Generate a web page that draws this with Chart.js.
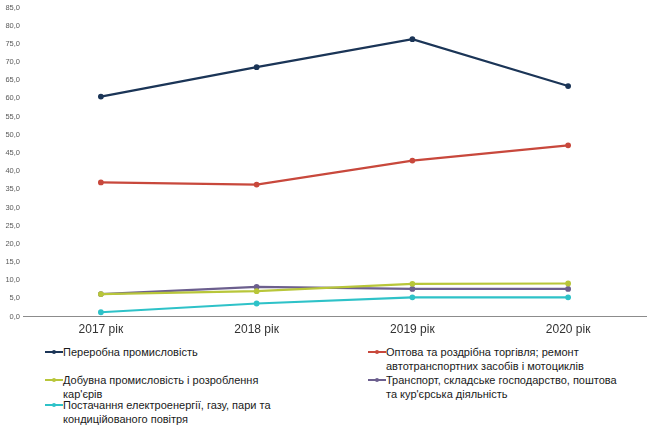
<!DOCTYPE html>
<html>
<head>
<meta charset="utf-8">
<script src="https://cdn.jsdelivr.net/npm/chart.js@4"></script>
<style>
    body { margin: 0; background: #fff; font-family: "Liberation Sans", Arial, sans-serif; }
    #wrap { position: relative; width: 650px; height: 429px; }
    #chart { position: absolute; left: 0; top: 0; }
    #legend {
        position: absolute; left: 45px; top: 346px;
        display: grid; grid-template-columns: 323px 260px;
        row-gap: 1px; font-size: 11px; line-height: 13.5px; color: #1a1a1a;
    }
    .item { display: flex; align-items: flex-start; }
    .item:nth-child(5) { margin-top: -3px; }
    .sym { position: relative; width: 18px; height: 13px; flex: none; }
    .sym i { position: absolute; left: 0; top: 5px; width: 18px; height: 2px; }
    .sym b { position: absolute; left: 7px; top: 4px; width: 4px; height: 4px; border-radius: 50%; }
    .txt { width: 215px; }
    .item:nth-child(even) .txt { width: 240px; }
</style>
</head>
<body>
<div id="wrap">
    <canvas id="chart" width="650" height="343"></canvas>
    <div id="legend"></div>
</div>
<script>
const years = ["2017 рік", "2018 рік", "2019 рік", "2020 рік"];

const seriesNames = [
    "Переробна промисловість",
    "Оптова та роздрібна торгівля; ремонт автотранспортних засобів і мотоциклів",
    "Добувна промисловість і розроблення кар'єрів",
    "Транспорт, складське господарство, поштова та кур'єрська діяльність",
    "Постачання електроенергії, газу, пари та кондиційованого повітря"
];

const processing = [60.5, 68.6, 76.3, 63.4];
const trade = [36.9, 36.3, 42.9, 47.1];
const mining = [6.2, 7.0, 9.0, 9.1];
const transport = [6.2, 8.2, 7.6, 7.6];
const energy = [1.2, 3.6, 5.3, 5.3];

const colors = ["#1b3557", "#c8483c", "#b8c63a", "#6c5f8e", "#2ec2c8"];

const values = [processing, trade, mining, transport, energy];

const datasets = values.map((v, i) => ({
    label: seriesNames[i],
    data: v,
    borderColor: colors[i],
    backgroundColor: colors[i],
    borderWidth: 2.2,
    pointRadius: 1.8,
    pointHoverRadius: 1.8,
    tension: 0
}));

new Chart(document.getElementById("chart"), {
    type: "line",
    data: { labels: years, datasets: datasets },
    options: {
        responsive: false,
        animation: false,
        layout: { padding: { top: 3, right: 4, left: 0, bottom: 0 } },
        plugins: {
            legend: { display: false },
            tooltip: { enabled: false }
        },
        scales: {
            x: {
                offset: true,
                grid: { display: false, drawTicks: false },
                border: { color: "#8c8c8c", width: 1 },
                ticks: {
                    color: "#333333",
                    font: { family: "Liberation Sans", size: 12 },
                    padding: 6
                }
            },
            y: {
                min: 0,
                max: 85,
                grid: { display: false, drawTicks: false },
                border: { display: false },
                afterFit: (scale) => { scale.width = 23; },
                ticks: {
                    stepSize: 5,
                    color: "#595959",
                    font: { family: "Liberation Sans", size: 7.5 },
                    padding: 3,
                    callback: (v) => v.toFixed(1).replace(".", ",")
                }
            }
        }
    }
});

const legend = document.getElementById("legend");
seriesNames.forEach((name, i) => {
    const item = document.createElement("div");
    item.className = "item";
    item.innerHTML = '<span class="sym"><i style="background:' + colors[i] + '"></i><b style="background:' + colors[i] + '"></b></span><span class="txt">' + name + '</span>';
    legend.appendChild(item);
});
</script>
</body>
</html>
